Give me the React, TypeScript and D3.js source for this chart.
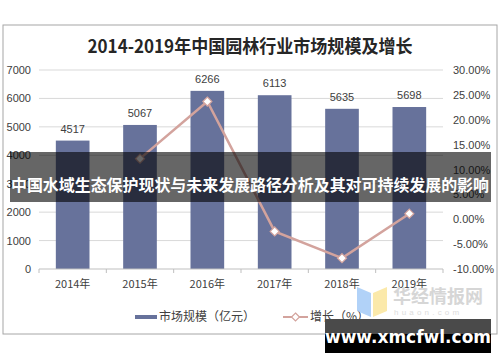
import { useMemo } from "react";
import * as d3 from "d3";

const WIDTH = 500;
const HEIGHT = 362;
const PLOT = { left: 39, right: 443, top: 70, bottom: 269 };

const years = ["2014年", "2015年", "2016年", "2017年", "2018年", "2019年"];
const marketSize = [4517, 5067, 6266, 6113, 5635, 5698];
const growthYears = ["2015年", "2016年", "2017年", "2018年", "2019年"];
const growth = [12.18, 23.66, -2.44, -7.82, 1.12];
const leftTicks = [0, 1000, 2000, 3000, 4000, 5000, 6000, 7000];
const rightTicks = [-10, -5, 0, 5, 10, 15, 20, 25, 30];

const BAR_COLOR = "#67729b";
const LINE_COLOR = "#d3a39d";
const GRID_COLOR = "#d9d9d9";
const AXIS_FONT = "'Liberation Sans', Arial, sans-serif";
const CJK_FONT = "'Noto Sans CJK SC', sans-serif";

export default function App() {
  const x = useMemo(
    () =>
      d3.scaleBand<string>().domain(years).range([PLOT.left, PLOT.right]).paddingInner(0.5).paddingOuter(0.25),
    []
  );
  const yLeft = useMemo(
    () => d3.scaleLinear().domain([0, 7000]).range([PLOT.bottom, PLOT.top]),
    []
  );
  const yRight = useMemo(
    () => d3.scaleLinear().domain([-10, 30]).range([PLOT.bottom, PLOT.top]),
    []
  );

  const linePoints = growthYears.map((yr, i) => ({
    x: (x(yr) ?? 0) + x.bandwidth() / 2,
    y: yRight(growth[i]),
  }));
  const linePath = d3
    .line<{ x: number; y: number }>()
    .x((d) => d.x)
    .y((d) => d.y)(linePoints);

  const diamond = (cx: number, cy: number, r: number) =>
    `M${cx},${cy - r}L${cx + r},${cy}L${cx},${cy + r}L${cx - r},${cy}Z`;

  const step = x.step();

  return (
    <div style={{ position: "fixed", left: 0, top: 0 }}>
      <svg width={WIDTH} height={HEIGHT} style={{ display: "block", background: "#fff" }}>
        {/* chart frame */}
        <rect x={3} y={25} width={494} height={309} fill="#fff" stroke="#a6a6a6" strokeWidth={1} />

        {/* title */}
        <text
          x={250}
          y={53}
          textAnchor="middle"
          fontFamily={CJK_FONT}
          fontSize={18}
          fontWeight={700}
          fill="#262626"
          textLength={325}
          lengthAdjust="spacingAndGlyphs"
        >
          2014-2019年中国园林行业市场规模及增长
        </text>

        {/* gridlines */}
        {leftTicks.slice(1).map((t) => (
          <line key={t} x1={PLOT.left} x2={PLOT.right} y1={yLeft(t)} y2={yLeft(t)} stroke={GRID_COLOR} strokeWidth={1} />
        ))}

        {/* bars */}
        {years.map((yr, i) => (
          <rect
            key={yr}
            x={x(yr)}
            y={yLeft(marketSize[i])}
            width={x.bandwidth()}
            height={PLOT.bottom - yLeft(marketSize[i])}
            fill={BAR_COLOR}
          />
        ))}

        {/* bar labels */}
        {years.map((yr, i) => (
          <text
            key={yr}
            x={(x(yr) ?? 0) + x.bandwidth() / 2}
            y={yLeft(marketSize[i]) - 8}
            textAnchor="middle"
            fontFamily={AXIS_FONT}
            fontSize={11}
            fill="#404040"
          >
            {marketSize[i]}
          </text>
        ))}

        {/* x axis */}
        <line x1={PLOT.left} x2={PLOT.right} y1={PLOT.bottom} y2={PLOT.bottom} stroke="#bfbfbf" />
        {d3.range(years.length + 1).map((i) => (
          <line
            key={i}
            x1={PLOT.left + i * step}
            x2={PLOT.left + i * step}
            y1={PLOT.bottom}
            y2={PLOT.bottom + 4}
            stroke="#bfbfbf"
          />
        ))}
        {years.map((yr) => (
          <text
            key={yr}
            x={(x(yr) ?? 0) + x.bandwidth() / 2}
            y={288}
            textAnchor="middle"
            fontFamily={CJK_FONT}
            fontSize={11}
            fill="#404040"
          >
            {yr}
          </text>
        ))}

        {/* left axis labels */}
        {leftTicks.map((t) => (
          <text
            key={t}
            x={31}
            y={yLeft(t) + 4}
            textAnchor="end"
            fontFamily={AXIS_FONT}
            fontSize={11}
            fill="#404040"
          >
            {t}
          </text>
        ))}

        {/* right axis labels */}
        {rightTicks.map((t) => (
          <text
            key={t}
            x={453}
            y={yRight(t) + 4}
            textAnchor="start"
            fontFamily={AXIS_FONT}
            fontSize={11}
            fill="#404040"
          >
            {t.toFixed(2)}%
          </text>
        ))}

        {/* growth line */}
        <path d={linePath ?? ""} fill="none" stroke={LINE_COLOR} strokeWidth={2.5} />
        {linePoints.map((p, i) => (
          <path key={i} d={diamond(p.x, p.y, 4.5)} fill="#fff" stroke={LINE_COLOR} strokeWidth={1.2} />
        ))}

        {/* legend */}
        <rect x={135} y={315} width={22} height={4} fill={BAR_COLOR} />
        <text x={159} y={321} fontFamily={CJK_FONT} fontSize={12} fill="#404040">
          市场规模（亿元）
        </text>
        <line x1={283} x2={308} y1={317} y2={317} stroke={LINE_COLOR} strokeWidth={2} />
        <path d={diamond(295.5, 317, 4)} fill="#fff" stroke={LINE_COLOR} strokeWidth={1.2} />
        <text x={310} y={321} fontFamily={CJK_FONT} fontSize={12} fill="#404040">
          增长（%）
        </text>

        {/* huaon watermark */}
        <path d="M357,287 L371,293 L371,317 L357,311 Z" fill="#a9cdf7" opacity={0.9} />
        <path d="M373,293 L387,287 L387,311 L373,317 Z" fill="#fbe7a1" opacity={0.9} />
        <text x={393} y={303} fontFamily={CJK_FONT} fontSize={18} fontWeight={700} fill="#d6d6d6">
          华经情报网
        </text>
        <text x={394} y={315} fontFamily={AXIS_FONT} fontSize={8} letterSpacing={3.2} fill="#dcdcdc">
          huaon.com
        </text>

        {/* overlay banner */}
        <rect x={10} y={152} width={481} height={50} fill="#000" opacity={0.6} />
        <text
          x={250}
          y={191}
          textAnchor="middle"
          fontFamily={CJK_FONT}
          fontSize={16}
          fontWeight={700}
          fill="#fff"
          textLength={478}
          lengthAdjust="spacingAndGlyphs"
        >
          中国水域生态保护现状与未来发展路径分析及其对可持续发展的影响
        </text>

        {/* site watermark */}
        <rect x={325} y={319} width={166} height={15} fill="#4a4a4a" />
        <rect x={325} y={334} width={166} height={19} fill="#000" />
        <text
          x={408}
          y={343}
          textAnchor="middle"
          fontFamily="'DejaVu Sans', sans-serif"
          fontSize={17}
          fontWeight={700}
          fill="#fff"
        >
          www.xmcfwl.com
        </text>
      </svg>
    </div>
  );
}
